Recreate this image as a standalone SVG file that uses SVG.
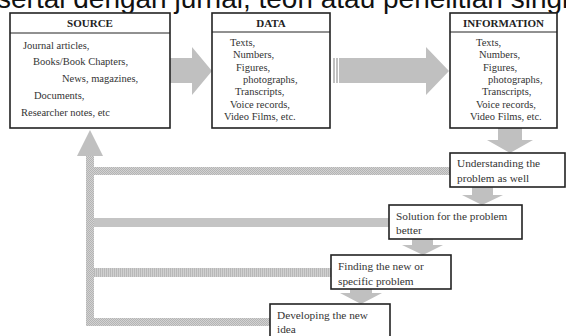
<svg xmlns="http://www.w3.org/2000/svg" width="566" height="336" viewBox="0 0 566 336">
<defs>
<pattern id="dots" width="2" height="2" patternUnits="userSpaceOnUse">
<rect width="2" height="2" fill="#d2d2d2"/>
<rect width="1" height="1" fill="#b4b4b4"/>
<rect x="1" y="1" width="1" height="1" fill="#b4b4b4"/>
</pattern>
<pattern id="vstripe" width="2" height="2" patternUnits="userSpaceOnUse">
<rect width="2" height="2" fill="#d0d0d0"/>
<rect width="1" height="2" fill="#b8b8b8"/>
</pattern>
</defs>
<style>
.box{fill:#fff;stroke:#222;stroke-width:1.6}
.hdr{stroke:#222;stroke-width:1}
.h{font-family:"Liberation Serif",serif;font-weight:bold;font-size:11px;fill:#222;text-anchor:middle}
.t{font-family:"Liberation Serif",serif;font-size:10.5px;fill:#333}
.s{font-family:"Liberation Serif",serif;font-size:11.3px;fill:#333}
.arr{fill:#c0c0c0}
.top{font-family:"Liberation Sans",Arial,sans-serif;font-size:28px;fill:#111}
</style>
<rect width="566" height="336" fill="#fff"/>
<text class="top" x="-3" y="8">sertai dengan jurnal, teori atau penelitian singkat</text>

<g id="connectors">
<polygon class="arr" points="169,58 192,58 192,47 212,71 192,95 192,83 169,83"/>
<polygon class="arr" points="333,58 426,58 426,47 449,71 426,95 426,83 333,83"/>
<rect x="335" y="58" width="1" height="25" fill="#fff"/>
<rect x="338" y="58" width="1" height="25" fill="#fff"/>
<polygon class="arr" points="498,128 522,128 522,140 533,140 510,153 487,140 498,140"/>
<polygon class="arr" points="472,187 493,187 493,195 503,195 482,205 462,195 472,195"/>
<polygon class="arr" points="412,239 433,239 433,245 443,245 423,255 402,245 412,245"/>
<polygon class="arr" points="350,289 372,289 372,293 382,293 361,304 340,293 350,293"/>
<rect x="94" y="167" width="356" height="8" fill="url(#dots)"/>
<rect x="94" y="218" width="295" height="9" fill="#c4c4c4"/>
<rect x="94" y="268" width="237" height="9" fill="url(#vstripe)"/>
<rect x="86" y="156" width="8" height="170" fill="url(#dots)"/>
<rect x="94" y="318" width="176" height="8" fill="url(#dots)"/>
<polygon class="arr" points="77,156 90,130 103,156"/>
</g>

<g id="source">
<rect class="box" x="10" y="13" width="160" height="115"/>
<line class="hdr" x1="10" y1="33" x2="170" y2="33"/>
<text class="h" x="90" y="27">SOURCE</text>
<text class="t" x="23" y="49">Journal articles,</text>
<text class="t" x="33" y="65">Books/Book Chapters,</text>
<text class="t" x="62" y="82">News, magazines,</text>
<text class="t" x="34" y="99">Documents,</text>
<text class="t" x="21" y="116">Researcher notes, etc</text>
</g>

<g id="data">
<rect class="box" x="212" y="13" width="118" height="115"/>
<line class="hdr" x1="212" y1="32" x2="330" y2="32"/>
<text class="h" x="271" y="27">DATA</text>
<text class="t" x="230" y="46">Texts,</text>
<text class="t" x="233" y="58">Numbers,</text>
<text class="t" x="236" y="70.5">Figures,</text>
<text class="t" x="243" y="83">photographs,</text>
<text class="t" x="235" y="95">Transcripts,</text>
<text class="t" x="230" y="107.5">Voice records,</text>
<text class="t" x="224" y="120">Video Films, etc.</text>
</g>

<g id="information">
<rect class="box" x="450" y="13" width="107" height="115"/>
<line class="hdr" x1="450" y1="32" x2="557" y2="32"/>
<text class="h" x="503.5" y="27">INFORMATION</text>
<text class="t" x="476" y="46">Texts,</text>
<text class="t" x="479" y="58">Numbers,</text>
<text class="t" x="483" y="70.5">Figures,</text>
<text class="t" x="488" y="83">photographs,</text>
<text class="t" x="482" y="95">Transcripts,</text>
<text class="t" x="476" y="107.5">Voice records,</text>
<text class="t" x="470" y="120">Video Films, etc.</text>
</g>

<g id="understanding">
<rect class="box" x="450" y="153" width="115" height="34"/>
<text class="s" x="457" y="167">Understanding the</text>
<text class="s" x="457" y="182">problem as well</text>
</g>

<g id="solution">
<rect class="box" x="389" y="205" width="133" height="34"/>
<text class="s" x="396" y="220">Solution for the problem</text>
<text class="s" x="396" y="234">better</text>
</g>

<g id="finding">
<rect class="box" x="331" y="255" width="120" height="34"/>
<text class="s" x="338" y="270">Finding the new or</text>
<text class="s" x="338" y="285">specific problem</text>
</g>

<g id="developing">
<rect class="box" x="270" y="304" width="120" height="40"/>
<text class="s" x="277" y="319">Developing the new</text>
<text class="s" x="277" y="333">idea</text>
</g>
</svg>
